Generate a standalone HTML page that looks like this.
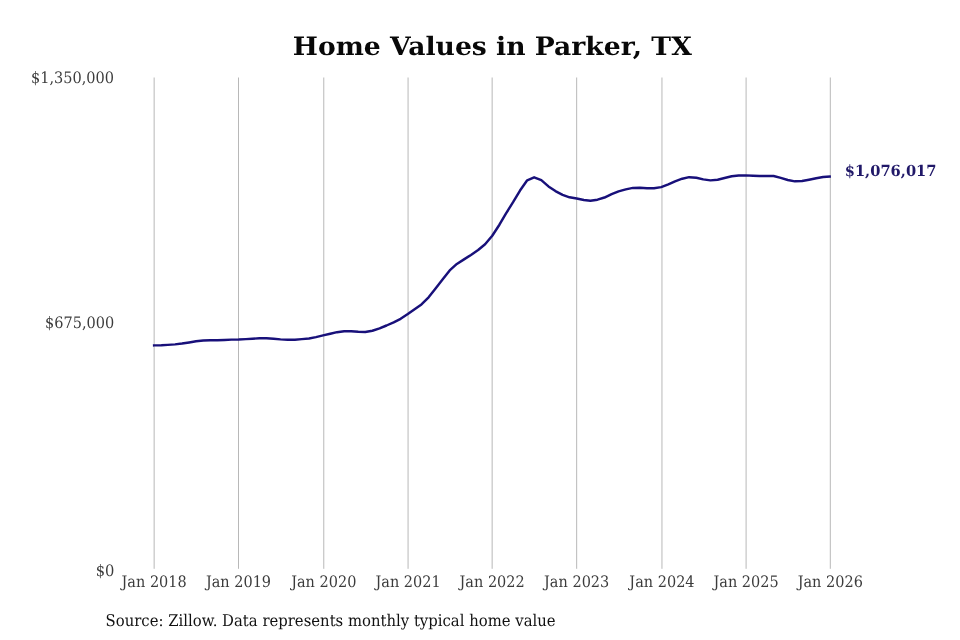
<!DOCTYPE html>
<html><head><meta charset="utf-8"><title>Home Values in Parker, TX</title>
<style>
html,body{margin:0;padding:0;background:#fff;}
body{width:960px;height:640px;overflow:hidden;}
svg{display:block;}
text{font-family:"DejaVu Serif","Liberation Serif",serif;text-rendering:geometricPrecision;}
</style></head><body>
<svg width="960" height="640" viewBox="0 0 960 640">
<rect width="960" height="640" fill="#ffffff"/>
<text x="492.3" y="55" text-anchor="middle" font-size="25.5" font-weight="bold" fill="#080808" textLength="399" lengthAdjust="spacingAndGlyphs">Home Values in Parker, TX</text>
<line x1="154.15" x2="154.15" y1="77.5" y2="568.8" stroke="#b0b0b0" stroke-width="0.9"/>
<line x1="238.50" x2="238.50" y1="77.5" y2="568.8" stroke="#b0b0b0" stroke-width="0.9"/>
<line x1="323.77" x2="323.77" y1="77.5" y2="568.8" stroke="#b0b0b0" stroke-width="0.9"/>
<line x1="408.07" x2="408.07" y1="77.5" y2="568.8" stroke="#b0b0b0" stroke-width="0.9"/>
<line x1="492.15" x2="492.15" y1="77.5" y2="568.8" stroke="#b0b0b0" stroke-width="0.9"/>
<line x1="576.67" x2="576.67" y1="77.5" y2="568.8" stroke="#b0b0b0" stroke-width="0.9"/>
<line x1="661.96" x2="661.96" y1="77.5" y2="568.8" stroke="#b0b0b0" stroke-width="0.9"/>
<line x1="746.10" x2="746.10" y1="77.5" y2="568.8" stroke="#b0b0b0" stroke-width="0.9"/>
<line x1="830.30" x2="830.30" y1="77.5" y2="568.8" stroke="#b0b0b0" stroke-width="0.9"/>
<text x="31.0" y="82.8" font-size="15.8" fill="#3c3c3c" textLength="83.0" lengthAdjust="spacingAndGlyphs">$1,350,000</text>
<text x="45.0" y="328.3" font-size="15.8" fill="#3c3c3c" textLength="69.2" lengthAdjust="spacingAndGlyphs">$675,000</text>
<text x="95.7" y="575.6" font-size="15.8" fill="#3c3c3c" textLength="18.7" lengthAdjust="spacingAndGlyphs">$0</text>
<text x="154.15" y="587.0" text-anchor="middle" font-size="15.8" fill="#3c3c3c" textLength="65.2" lengthAdjust="spacingAndGlyphs">Jan 2018</text>
<text x="238.50" y="587.0" text-anchor="middle" font-size="15.8" fill="#3c3c3c" textLength="65.2" lengthAdjust="spacingAndGlyphs">Jan 2019</text>
<text x="323.77" y="587.0" text-anchor="middle" font-size="15.8" fill="#3c3c3c" textLength="65.2" lengthAdjust="spacingAndGlyphs">Jan 2020</text>
<text x="408.07" y="587.0" text-anchor="middle" font-size="15.8" fill="#3c3c3c" textLength="65.2" lengthAdjust="spacingAndGlyphs">Jan 2021</text>
<text x="492.15" y="587.0" text-anchor="middle" font-size="15.8" fill="#3c3c3c" textLength="65.2" lengthAdjust="spacingAndGlyphs">Jan 2022</text>
<text x="576.67" y="587.0" text-anchor="middle" font-size="15.8" fill="#3c3c3c" textLength="65.2" lengthAdjust="spacingAndGlyphs">Jan 2023</text>
<text x="661.96" y="587.0" text-anchor="middle" font-size="15.8" fill="#3c3c3c" textLength="65.2" lengthAdjust="spacingAndGlyphs">Jan 2024</text>
<text x="746.10" y="587.0" text-anchor="middle" font-size="15.8" fill="#3c3c3c" textLength="65.2" lengthAdjust="spacingAndGlyphs">Jan 2025</text>
<text x="830.30" y="587.0" text-anchor="middle" font-size="15.8" fill="#3c3c3c" textLength="65.2" lengthAdjust="spacingAndGlyphs">Jan 2026</text>
<path d="M152.90,345.46 L154.20,345.40 L161.37,345.28 L167.85,344.89 L175.02,344.35 L181.97,343.53 L189.14,342.42 L196.08,341.32 L203.25,340.56 L210.43,340.33 L217.37,340.23 L224.54,340.00 L231.48,339.63 L238.65,339.50 L245.83,339.15 L252.31,338.74 L259.48,338.34 L266.42,338.34 L273.59,338.78 L280.53,339.36 L287.71,339.77 L294.88,339.66 L301.82,339.14 L308.99,338.54 L315.94,337.17 L323.11,335.42 L330.28,333.70 L336.99,332.17 L344.17,331.23 L351.11,331.30 L358.28,331.83 L365.22,331.93 L372.39,330.72 L379.57,328.38 L386.51,325.50 L393.68,322.32 L400.62,318.83 L407.80,314.07 L414.97,308.96 L421.45,304.38 L428.62,297.27 L435.56,288.42 L442.73,279.29 L449.68,270.38 L456.85,263.94 L464.02,259.38 L470.96,254.92 L478.14,249.96 L485.08,244.30 L492.25,235.77 L499.42,224.73 L505.90,213.60 L513.07,202.20 L520.02,190.56 L527.19,180.30 L534.13,177.30 L541.30,180.10 L548.48,186.40 L555.42,191.10 L562.59,194.90 L569.53,197.29 L576.70,198.50 L583.88,200.04 L590.36,200.80 L597.53,199.69 L604.47,197.54 L611.64,194.14 L618.58,191.37 L625.76,189.41 L632.93,187.92 L639.87,187.74 L647.04,188.23 L653.99,188.22 L661.16,187.11 L668.33,184.31 L675.04,181.35 L682.22,178.69 L689.16,177.16 L696.33,177.77 L703.27,179.40 L710.44,180.38 L717.62,179.74 L724.56,178.06 L731.73,176.29 L738.67,175.43 L745.85,175.39 L753.02,175.72 L759.50,175.97 L766.67,175.89 L773.61,176.01 L780.78,177.91 L787.73,179.97 L794.90,181.34 L802.07,181.00 L809.01,179.70 L816.19,178.26 L823.13,177.07 L830.30,176.50 L830.90,176.45" fill="none" stroke="#18107a" stroke-width="2.45" stroke-linecap="butt" stroke-linejoin="round"/>
<text x="844.7" y="175.6" font-size="15.3" font-weight="bold" fill="#201868" textLength="91.8" lengthAdjust="spacingAndGlyphs">$1,076,017</text>
<text x="105.6" y="625.6" font-size="16.2" fill="#111111" textLength="450" lengthAdjust="spacingAndGlyphs">Source: Zillow. Data represents monthly typical home value</text>
</svg>
</body></html>
